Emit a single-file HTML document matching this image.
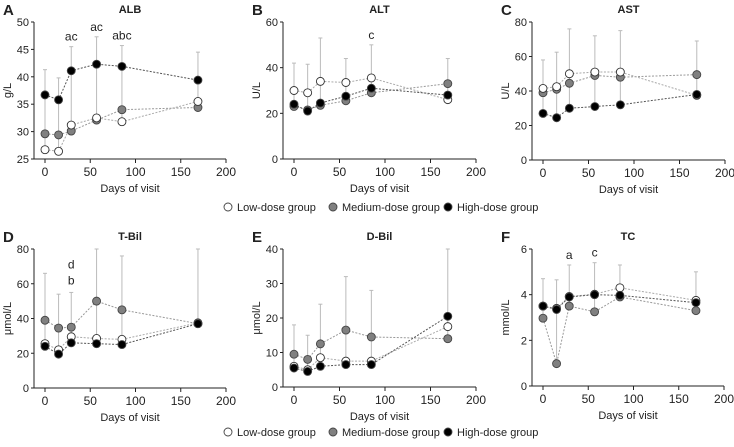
<!DOCTYPE html>
<html><head><meta charset="utf-8"><style>
body{margin:0;background:#fff;font-family:"Liberation Sans",sans-serif}
svg text{font-family:"Liberation Sans",sans-serif;fill:#222}
</style></head><body>
<svg id="c" width="734" height="442" xmlns="http://www.w3.org/2000/svg"></svg>
<script>
const days=[0,15,29,57,85,169];
const albLow=[26.7,26.4,31.2,32.5,31.8,35.5],albMed=[29.6,29.4,30.1,32.1,34,34.4],albHigh=[36.7,35.8,41.1,42.3,41.9,39.4],albErr=[41.3,39.8,45.5,47.3,45.7,44.5];
const altLow=[30,29,34,33.5,35.5,26],altMed=[23,21.5,23.5,25.5,29,33],altHigh=[24,21,24.5,27.5,31,28],altErr=[42,41.5,53,44,50,44];
const astLow=[41.5,42.5,50,51,51,37.5],astMed=[39,41,44.5,49,48,49.5],astHigh=[27,24.5,30,31,32,38],astErr=[58,62.5,76,72,75,69];
const tbLow=[25.5,22,29.5,28.5,28,37.5],tbMed=[39,34.5,35,50,45,37],tbHigh=[24,19.5,26,25.5,25,37],tbErr=[66,54,55,80,76,80];
const dbLow=[6,5,8.5,7.5,7.5,17.5],dbMed=[9.5,8,12.5,16.5,14.5,14],dbHigh=[5.5,4.5,6,6.5,6.5,20.5],dbErr=[18,15,24,32,28,40];
const tcLow=[3.5,3.4,3.92,4.02,4.3,3.75],tcMed=[2.97,0.98,3.5,3.25,3.9,3.3],tcHigh=[3.5,3.35,3.9,4.0,3.97,3.65],tcErr=[4.7,4.65,5.3,5.4,5.3,5.0];
const xTicks=[0,50,100,150,200];
const panels=[
{k:'A',t:'ALB',u:'g/L',x0:45,x1:226,yt:22,yb:159,lo:25,hi:50,ticks:[25,30,35,40,45,50],L:albLow,M:albMed,H:albHigh,E:albErr,ann:[[29,'ac'],[57,'ac'],[85,'abc']]},
{k:'B',t:'ALT',u:'U/L',x0:294,x1:476,yt:22,yb:159,lo:0,hi:60,ticks:[0,20,40,60],L:altLow,M:altMed,H:altHigh,E:altErr,ann:[[85,'c']]},
{k:'C',t:'AST',u:'U/L',x0:543,x1:725,yt:22,yb:160,lo:0,hi:80,ticks:[0,20,40,60,80],L:astLow,M:astMed,H:astHigh,E:astErr,ann:[]},
{k:'D',t:'T-Bil',u:'μmol/L',x0:45,x1:226,yt:249,yb:388,lo:0,hi:80,ticks:[0,20,40,60,80],L:tbLow,M:tbMed,H:tbHigh,E:tbErr,ann:[[29,'d',0],[29,'b',1]]},
{k:'E',t:'D-Bil',u:'μmol/L',x0:294,x1:476,yt:249,yb:387,lo:0,hi:40,ticks:[0,10,20,30,40],L:dbLow,M:dbMed,H:dbHigh,E:dbErr,ann:[]},
{k:'F',t:'TC',u:'mmol/L',x0:543,x1:724,yt:249,yb:386,lo:0,hi:6,ticks:[0,2,4,6],L:tcLow,M:tcMed,H:tcHigh,E:tcErr,ann:[[29,'a'],[57,'c']]}];
const svg=document.getElementById('c');const NS='http://www.w3.org/2000/svg';
function mk(tag,at,txt){const e=document.createElementNS(NS,tag);for(const a in at)e.setAttribute(a,at[a]);if(txt!=null)e.textContent=txt;svg.appendChild(e);return e;}
panels.forEach(p=>{
 const sx=v=>p.x0+(v/200)*(p.x1-p.x0);
 const sy=v=>p.yb-(v-p.lo)/(p.hi-p.lo)*(p.yb-p.yt);
 const ax=p.x0-11;
 let e=mk('text',{x:p.x0-42,y:p.yt-7,'font-size':15,'font-weight':'bold'},p.k);
 
 e=mk('text',{x:(ax+p.x1)/2,y:p.yt-9,'font-size':11,'font-weight':'bold','text-anchor':'middle'},p.t);
 
 e=mk('line',{x1:ax,y1:p.yt,x2:ax,y2:p.yb,stroke:'#222','stroke-width':1});
 
 e=mk('line',{x1:ax,y1:p.yb,x2:p.x1,y2:p.yb,stroke:'#222','stroke-width':1});
 
 p.ticks.forEach(t=>{mk('line',{x1:ax-3,y1:sy(t),x2:ax,y2:sy(t),stroke:'#222'});
  e=mk('text',{x:ax-5,y:sy(t)+4,'font-size':11,'text-anchor':'end',fill:'#333'},t);
  });
 xTicks.forEach(t=>{mk('line',{x1:sx(t),y1:p.yb,x2:sx(t),y2:p.yb+4,stroke:'#222'});
  e=mk('text',{x:sx(t),y:p.yb+17,'font-size':12,'text-anchor':'middle',fill:'#333'},t);
  });
 e=mk('text',{x:(ax+p.x1)/2,y:p.yb+33,'font-size':11,'text-anchor':'middle',fill:'#333'},'Days of visit');
 
 const yc=(p.yt+p.yb)/2,tx=ax-23;
 e=mk('text',{x:tx,y:yc,'font-size':11,'text-anchor':'middle',transform:`rotate(-90 ${tx} ${yc})`,fill:'#333'},p.u);
 
 days.forEach((d,i)=>{const top=p.E[i];const base=Math.min(p.L[i],p.M[i],p.H[i]);
  e=mk('line',{x1:sx(d),y1:sy(base),x2:sx(d),y2:sy(top),stroke:'#bbb','stroke-width':1});
  
  mk('line',{x1:sx(d)-2,y1:sy(top),x2:sx(d)+2,y2:sy(top),stroke:'#bbb'});});
 const ser=[[p.M,'#808080','#999','medium'],[p.L,'#fff','#aaa','low'],[p.H,'#000','#555','high']];
 ser.forEach(s=>{const pts=days.map((d,i)=>sx(d)+','+sy(s[0][i])).join(' ');
  e=mk('polyline',{points:pts,fill:'none',stroke:s[2],'stroke-width':1,'stroke-dasharray':'2,1.5'});
  });
 ser.forEach(s=>{days.forEach((d,i)=>{e=mk('circle',{cx:sx(d),cy:sy(s[0][i]),r:4,fill:s[1],stroke:s[1]=='#fff'?'#333':'#444','stroke-width':0.9});
  });});
 p.ann.forEach(a=>{const i=days.indexOf(a[0]);let y=sy(p.E[i])-6;if(a.length>2)y=sy(p.E[i])-8-(1-a[2])*16;
  e=mk('text',{x:sx(a[0]),y:y,'font-size':12,'text-anchor':'middle',fill:'#333'},a[1]);
  });
});
[211,436].forEach(y=>{
 [[228,'#fff','Low-dose group','low'],[333,'#808080','Medium-dose group','medium'],[448,'#000','High-dose group','high']].forEach(l=>{
  let e=mk('circle',{cx:l[0],cy:y-4,r:4,fill:l[1],stroke:'#444','stroke-width':0.9});
  
  e=mk('text',{x:l[0]+9,y:y,'font-size':11,fill:'#333'},l[2]);
  });});
</script>
</body></html>
